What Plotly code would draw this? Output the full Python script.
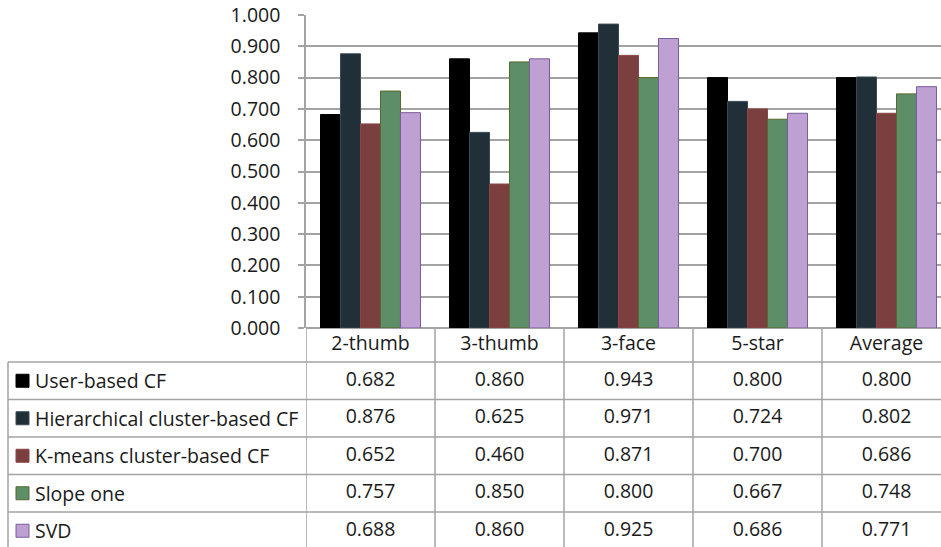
import plotly.graph_objects as go

# Rating scales and recommendation methods
categories = ["2-thumb", "3-thumb", "3-face", "5-star", "Average"]
methods = [
    "User-based CF",
    "Hierarchical cluster-based CF",
    "K-means cluster-based CF",
    "Slope one",
    "SVD",
]
user_based = [0.682, 0.860, 0.943, 0.800, 0.800]
hierarchical = [0.876, 0.625, 0.971, 0.724, 0.802]
kmeans = [0.652, 0.460, 0.871, 0.700, 0.686]
slope_one = [0.757, 0.850, 0.800, 0.667, 0.748]
svd = [0.688, 0.860, 0.925, 0.686, 0.771]
y_ticks = [0.0, 0.1, 0.2, 0.3, 0.4, 0.5, 0.6, 0.7, 0.8, 0.9, 1.0]

series = [user_based, hierarchical, kmeans, slope_one, svd]
fills = ["#000000", "#213038", "#7B3F3F", "#5D8E68", "#BFA0D3"]
edges = ["#000000", "#3A4A52", "#8C4545", "#56692E", "#7A5C9C"]

W, H = 941, 547
plot_left, axis_zero, plot_top = 306, 328, 15
cat_px = 129.0
row_px = 37.5
table_left = 8
header_top = 0.5 - 34 / row_px
grid = "#A3A3A3"
font = "Open Sans"
fsize = 19.5
ink = "#1A1A1A"

fig = go.Figure()

for name, vals, fc, ec in zip(methods, series, fills, edges):
    fig.add_trace(go.Bar(
        x=categories, y=vals, name=name,
        marker=dict(color=fc, line=dict(color=ec, width=1)),
        xaxis="x", yaxis="y", showlegend=False,
    ))

# Data table values placed on the category axis and a row axis
tx, ty, tt = [], [], []
for r, vals in enumerate(series, start=1):
    for c, v in zip(categories, vals):
        tx.append(c)
        ty.append(r)
        tt.append(f"{v:.3f}")
fig.add_trace(go.Scatter(
    x=tx, y=ty, text=tt, mode="text", xaxis="x", yaxis="y2",
    textfont=dict(family=font, size=fsize, color=ink),
    showlegend=False, hoverinfo="skip", cliponaxis=False,
))
header_mid = (header_top + 0.5) / 2
fig.add_trace(go.Scatter(
    x=categories, y=[header_mid] * len(categories), text=categories,
    mode="text", xaxis="x", yaxis="y2",
    textfont=dict(family=font, size=fsize, color=ink),
    showlegend=False, hoverinfo="skip", cliponaxis=False,
))

shapes = []
n_rows = len(methods)
y2_bottom = header_top + (H - axis_zero) / row_px
# horizontal table rules
for r in range(n_rows + 1):
    shapes.append(dict(type="line", xref="paper", yref="y2",
                       x0=table_left / W, x1=1, y0=r + 0.5, y1=r + 0.5,
                       line=dict(color=grid, width=1.5)))
# vertical table rules at category boundaries
for k in range(len(categories) + 1):
    shapes.append(dict(type="line", xref="x", yref="y2",
                       x0=k - 0.5, x1=k - 0.5, y0=header_top, y1=y2_bottom,
                       line=dict(color=grid, width=1.5)))
# left border of the label column
shapes.append(dict(type="line", xref="paper", yref="y2",
                   x0=table_left / W, x1=table_left / W, y0=0.5, y1=y2_bottom,
                   line=dict(color=grid, width=1.5)))

# legend keys and row labels
annotations = []
key_half = 6.5 / row_px
for r, (name, fc, ec) in enumerate(zip(methods, fills, edges), start=1):
    shapes.append(dict(type="rect", xref="paper", yref="y2",
                       x0=16 / W, x1=29 / W, y0=r - key_half, y1=r + key_half,
                       fillcolor=fc, line=dict(color=ec, width=1)))
    annotations.append(dict(xref="paper", yref="y2", x=33 / W, y=r,
                            text=name, showarrow=False, xanchor="left",
                            yanchor="middle",
                            font=dict(family=font, size=fsize, color=ink)))

fig.update_layout(
    width=W, height=H,
    margin=dict(l=0, r=0, t=0, b=0, autoexpand=False),
    paper_bgcolor="white", plot_bgcolor="white",
    barmode="group", bargap=0.225, bargroupgap=0,
    xaxis=dict(
        domain=[plot_left / W, 1],
        range=[-0.5, -0.5 + (W - plot_left) / cat_px],
        showticklabels=False, ticks="", showgrid=False,
        showline=False, zeroline=False, anchor="y", automargin=False,
    ),
    yaxis=dict(
        domain=[1 - axis_zero / H, 1 - plot_top / H],
        range=[0, 1.0], tickvals=y_ticks, tickformat=".3f",
        showgrid=True, gridcolor=grid, gridwidth=1.5,
        showline=True, linecolor=grid, linewidth=1.5,
        zeroline=True, zerolinecolor=grid, zerolinewidth=1.5,
        ticks="outside", ticklen=6, tickcolor=grid, tickwidth=1.5,
        ticklabelstandoff=14, automargin=False,
        tickfont=dict(family=font, size=fsize, color=ink),
        anchor="x",
    ),
    yaxis2=dict(
        domain=[0, 1 - axis_zero / H],
        range=[y2_bottom, header_top],
        showticklabels=False, showgrid=False, zeroline=False,
        showline=False, ticks="", anchor="x", automargin=False,
    ),
    shapes=shapes,
    annotations=annotations,
)

fig.write_html("out.html")
